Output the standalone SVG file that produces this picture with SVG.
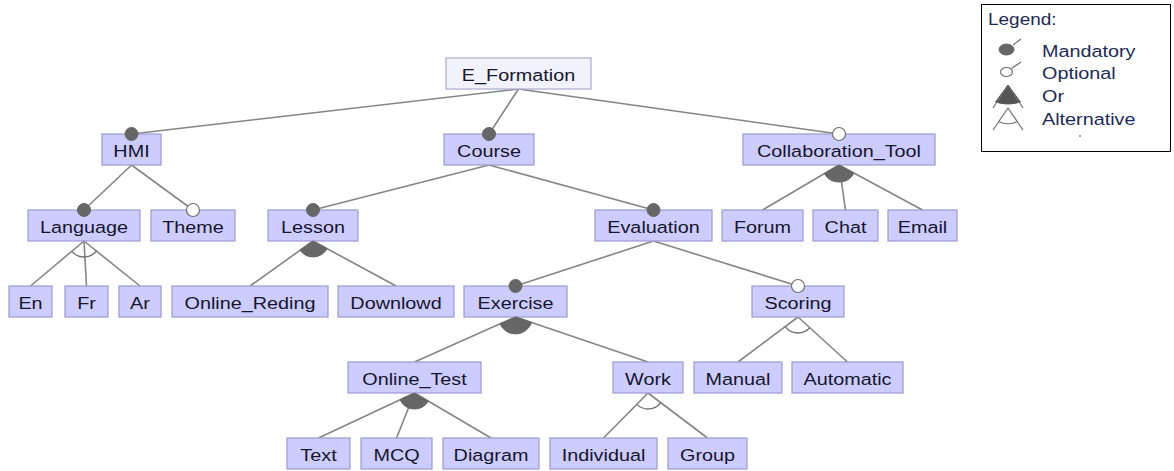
<svg xmlns="http://www.w3.org/2000/svg" width="1174" height="471" viewBox="0 0 1174 471">
  <style>
    .box { fill: #ccccff; stroke: #9a9acb; stroke-width: 1.2; }
    .root { fill: #f2f2fc; stroke: #aaaacc; stroke-width: 1.2; }
    .lbl { font-family: "Liberation Sans", Arial, sans-serif; font-size: 16.5px; fill: #15152e; text-anchor: middle; }
    .leg { font-family: "Liberation Sans", Arial, sans-serif; font-size: 16.5px; fill: #1e2a55; }
    .edge { stroke: #858585; stroke-width: 1.6; fill: none; }
    .mand { fill: #666666; stroke: #666666; stroke-width: 1; }
    .opt { fill: #ffffff; stroke: #707070; stroke-width: 1.2; }
    .orfill { fill: #666666; stroke: #666666; stroke-width: 1; }
    .alt { fill: none; stroke: #707070; stroke-width: 1.3; }
    .lline { stroke: #707070; stroke-width: 1.2; fill: none; }
  </style>

  <rect width="1174" height="471" fill="#ffffff"/>

  <!-- connectors -->
  <g id="connectors">
    <line class="edge" x1="518.5" y1="89" x2="131.5" y2="134"/>
    <line class="edge" x1="518.5" y1="89" x2="489" y2="134"/>
    <line class="edge" x1="518.5" y1="89" x2="839" y2="134"/>

    <line class="edge" x1="131.5" y1="165" x2="84" y2="210"/>
    <line class="edge" x1="131.5" y1="165" x2="193" y2="210"/>
    <line class="edge" x1="489" y1="165" x2="313" y2="210"/>
    <line class="edge" x1="489" y1="165" x2="653.5" y2="210"/>
    <line class="edge" x1="839" y1="165" x2="762.5" y2="210"/>
    <line class="edge" x1="839" y1="165" x2="845.5" y2="210"/>
    <line class="edge" x1="839" y1="165" x2="922.5" y2="210"/>

    <line class="edge" x1="84" y1="241" x2="30.5" y2="286"/>
    <line class="edge" x1="84" y1="241" x2="86.5" y2="286"/>
    <line class="edge" x1="84" y1="241" x2="140" y2="286"/>
    <line class="edge" x1="313" y1="241" x2="250" y2="286"/>
    <line class="edge" x1="313" y1="241" x2="396" y2="286"/>
    <line class="edge" x1="653.5" y1="241" x2="515.5" y2="286"/>
    <line class="edge" x1="653.5" y1="241" x2="798" y2="286"/>

    <line class="edge" x1="515.5" y1="317" x2="414.5" y2="362"/>
    <line class="edge" x1="515.5" y1="317" x2="648" y2="362"/>
    <line class="edge" x1="798" y1="317" x2="738" y2="362"/>
    <line class="edge" x1="798" y1="317" x2="847.5" y2="362"/>

    <line class="edge" x1="414.5" y1="393" x2="318.5" y2="438"/>
    <line class="edge" x1="414.5" y1="393" x2="396.5" y2="438"/>
    <line class="edge" x1="414.5" y1="393" x2="491" y2="438"/>
    <line class="edge" x1="648" y1="393" x2="603.5" y2="438"/>
    <line class="edge" x1="648" y1="393" x2="707.5" y2="438"/>
  </g>

  <!-- features -->
  <g id="E_Formation"><rect class="root" x="446" y="58" width="145" height="31"/><text class="lbl" transform="translate(518.5,81) scale(1.2,1)">E_Formation</text></g>
  <g id="HMI"><rect class="box" x="102" y="134" width="59" height="31"/><text class="lbl" transform="translate(131.5,157) scale(1.2,1)">HMI</text></g>
  <g id="Course"><rect class="box" x="444" y="134" width="90" height="31"/><text class="lbl" transform="translate(489,157) scale(1.2,1)">Course</text></g>
  <g id="Collaboration_Tool"><rect class="box" x="743" y="134" width="192" height="31"/><text class="lbl" transform="translate(839,157) scale(1.2,1)">Collaboration_Tool</text></g>

  <g id="Language"><rect class="box" x="28" y="210" width="112" height="31"/><text class="lbl" transform="translate(84,233) scale(1.2,1)">Language</text></g>
  <g id="Theme"><rect class="box" x="151" y="210" width="84" height="31"/><text class="lbl" transform="translate(193,233) scale(1.2,1)">Theme</text></g>
  <g id="Lesson"><rect class="box" x="268" y="210" width="90" height="31"/><text class="lbl" transform="translate(313,233) scale(1.2,1)">Lesson</text></g>
  <g id="Evaluation"><rect class="box" x="595" y="210" width="117" height="31"/><text class="lbl" transform="translate(653.5,233) scale(1.2,1)">Evaluation</text></g>
  <g id="Forum"><rect class="box" x="722" y="210" width="81" height="31"/><text class="lbl" transform="translate(762.5,233) scale(1.2,1)">Forum</text></g>
  <g id="Chat"><rect class="box" x="813" y="210" width="65" height="31"/><text class="lbl" transform="translate(845.5,233) scale(1.2,1)">Chat</text></g>
  <g id="Email"><rect class="box" x="888" y="210" width="69" height="31"/><text class="lbl" transform="translate(922.5,233) scale(1.2,1)">Email</text></g>

  <g id="En"><rect class="box" x="9" y="286" width="43" height="31"/><text class="lbl" transform="translate(30.5,309) scale(1.2,1)">En</text></g>
  <g id="Fr"><rect class="box" x="65" y="286" width="43" height="31"/><text class="lbl" transform="translate(86.5,309) scale(1.2,1)">Fr</text></g>
  <g id="Ar"><rect class="box" x="119" y="286" width="42" height="31"/><text class="lbl" transform="translate(140,309) scale(1.2,1)">Ar</text></g>
  <g id="Online_Reding"><rect class="box" x="172" y="286" width="156" height="31"/><text class="lbl" transform="translate(250,309) scale(1.2,1)">Online_Reding</text></g>
  <g id="Downlowd"><rect class="box" x="338" y="286" width="116" height="31"/><text class="lbl" transform="translate(396,309) scale(1.2,1)">Downlowd</text></g>
  <g id="Exercise"><rect class="box" x="464" y="286" width="103" height="31"/><text class="lbl" transform="translate(515.5,309) scale(1.2,1)">Exercise</text></g>
  <g id="Scoring"><rect class="box" x="752" y="286" width="92" height="31"/><text class="lbl" transform="translate(798,309) scale(1.2,1)">Scoring</text></g>

  <g id="Online_Test"><rect class="box" x="348" y="362" width="133" height="31"/><text class="lbl" transform="translate(414.5,385) scale(1.2,1)">Online_Test</text></g>
  <g id="Work"><rect class="box" x="613" y="362" width="70" height="31"/><text class="lbl" transform="translate(648,385) scale(1.2,1)">Work</text></g>
  <g id="Manual"><rect class="box" x="694" y="362" width="88" height="31"/><text class="lbl" transform="translate(738,385) scale(1.2,1)">Manual</text></g>
  <g id="Automatic"><rect class="box" x="792" y="362" width="111" height="31"/><text class="lbl" transform="translate(847.5,385) scale(1.2,1)">Automatic</text></g>

  <g id="Text"><rect class="box" x="287" y="438" width="63" height="31"/><text class="lbl" transform="translate(318.5,461) scale(1.2,1)">Text</text></g>
  <g id="MCQ"><rect class="box" x="361" y="438" width="71" height="31"/><text class="lbl" transform="translate(396.5,461) scale(1.2,1)">MCQ</text></g>
  <g id="Diagram"><rect class="box" x="443" y="438" width="96" height="31"/><text class="lbl" transform="translate(491,461) scale(1.2,1)">Diagram</text></g>
  <g id="Individual"><rect class="box" x="550" y="438" width="107" height="31"/><text class="lbl" transform="translate(603.5,461) scale(1.2,1)">Individual</text></g>
  <g id="Group"><rect class="box" x="668" y="438" width="79" height="31"/><text class="lbl" transform="translate(707.5,461) scale(1.2,1)">Group</text></g>

  <!-- mandatory / optional markers at child tops -->
  <g id="markers">
    <circle class="mand" cx="131.5" cy="134" r="6.5"/>
    <circle class="mand" cx="489" cy="134" r="6.5"/>
    <circle class="opt" cx="839" cy="134" r="6.5"/>
    <circle class="mand" cx="84" cy="210" r="6.5"/>
    <circle class="opt" cx="193" cy="210" r="6.5"/>
    <circle class="mand" cx="313" cy="210" r="6.5"/>
    <circle class="mand" cx="653.5" cy="210" r="6.5"/>
    <circle class="mand" cx="515.5" cy="286" r="6.5"/>
    <circle class="opt" cx="798" cy="286" r="6.5"/>
  </g>

  <!-- or-groups (filled) and alternative groups (arc) -->
  <g id="groups">
    <path class="orfill" d="M839,165 L824.3,173.6 A17,17 0 0 0 854,173.1 Z"/>
    <path class="orfill" d="M313,241 L300,250.3 A16,16 0 0 0 327.1,248.6 Z"/>
    <path class="orfill" d="M515.5,317 L500,323.9 A17,17 0 0 0 531.6,322.5 Z"/>
    <path class="orfill" d="M414.5,393 L400,399.8 A16,16 0 0 0 428.3,401.1 Z"/>
    <path class="alt" d="M71.8,251.3 A16,16 0 0 0 96.5,251"/>
    <path class="alt" d="M785.2,326.6 A16,16 0 0 0 809.8,327.8"/>
    <path class="alt" d="M636.8,404.4 A16,16 0 0 0 660.8,402.6"/>
  </g>

  <!-- legend -->
  <g id="legend">
    <rect x="981.5" y="4.5" width="189" height="147" fill="#ffffff" stroke="#000000" stroke-width="1"/>
    <text class="leg" transform="translate(988,25) scale(1.15,1)">Legend:</text>
    <ellipse class="mand" cx="1006.5" cy="49.5" rx="7.5" ry="5.5"/>
    <line class="lline" x1="1013" y1="45" x2="1021" y2="39"/>
    <text class="leg" transform="translate(1042,57) scale(1.2,1)">Mandatory</text>
    <ellipse class="opt" cx="1006.5" cy="72" rx="6" ry="4.5"/>
    <line class="lline" x1="1011.5" y1="68.5" x2="1021" y2="62"/>
    <text class="leg" transform="translate(1042,79) scale(1.2,1)">Optional</text>
    <path d="M1008,85 L995.5,102 Q1008,106 1020.5,102 Z" fill="#555555" stroke="#555555" stroke-width="1"/>
    <line class="lline" x1="1008" y1="85" x2="993" y2="108"/>
    <line class="lline" x1="1008" y1="85" x2="1023" y2="108"/>
    <text class="leg" transform="translate(1042,102) scale(1.2,1)">Or</text>
    <line class="lline" x1="1008" y1="108" x2="993" y2="130"/>
    <line class="lline" x1="1008" y1="108" x2="1023" y2="130"/>
    <path class="lline" d="M998.5,121.5 Q1008,126 1017.5,121.5"/>
    <text class="leg" transform="translate(1042,125) scale(1.2,1)">Alternative</text>
    <circle cx="1080" cy="136" r="0.9" fill="#777799"/>
  </g>
</svg>
